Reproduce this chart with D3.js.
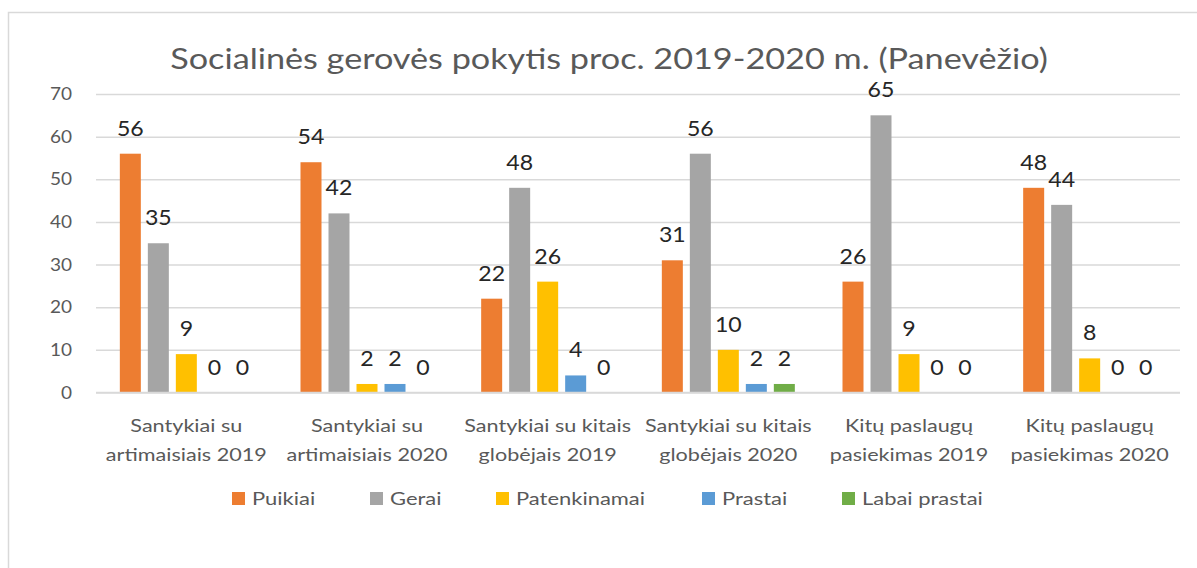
<!DOCTYPE html>
<html>
<head>
<meta charset="utf-8">
<script src="https://cdn.jsdelivr.net/npm/d3@7"></script>
<style>
	body { margin: 0; background: #fff; }
	svg text { font-family: Lato, "Open Sans", sans-serif; }
</style>
</head>
<body>
<div id="chart"></div>
<script>
// ----- data -----
let categories = [
	['Santykiai su', 'artimaisiais 2019'],
	['Santykiai su', 'artimaisiais 2020'],
	['Santykiai su kitais', 'globėjais 2019'],
	['Santykiai su kitais', 'globėjais 2020'],
	['Kitų paslaugų', 'pasiekimas 2019'],
	['Kitų paslaugų', 'pasiekimas 2020']
];
let seriesNames = ['Puikiai', 'Gerai', 'Patenkinamai', 'Prastai', 'Labai prastai'];
let puikiai = [56, 54, 22, 31, 26, 48];
let gerai = [35, 42, 48, 56, 65, 44];
let patenkinamai = [9, 2, 26, 10, 9, 8];
let prastai = [0, 2, 4, 2, 0, 0];
let labaiPrastai = [0, 0, 0, 2, 0, 0];
let yTicks = [0, 10, 20, 30, 40, 50, 60, 70];
let title = 'Socialinės gerovės pokytis proc. 2019-2020 m. (Panevėžio)';

let seriesValues = [puikiai, gerai, patenkinamai, prastai, labaiPrastai];
let colors = ['#ED7D31', '#A5A5A5', '#FFC000', '#5B9BD5', '#70AD47'];

let width = 1197, height = 568;

let svg = d3.select('#chart').append('svg')
	.attr('width', width)
	.attr('height', height);

// the source picture is stretched sideways, so text gets a small x-scale
function stretchedText(parent, x, y, sx, size, anchor, fill, str) {
	return parent.append('text')
		.attr('transform', 'translate(' + x + ',' + y + ') scale(' + sx + ',1)')
		.attr('text-anchor', anchor)
		.attr('fill', fill)
		.style('font-size', size + 'px')
		.text(str);
}

// chart frame (runs off the right and bottom edges)
svg.append('rect')
	.attr('x', 8.5).attr('y', 12.5)
	.attr('width', 1300).attr('height', 700)
	.attr('fill', 'none')
	.attr('stroke', '#d9d9d9')
	.attr('stroke-width', 1.5);

stretchedText(svg, 609, 69, 1.18, 29, 'middle', '#595959', title);

let y = d3.scaleLinear().domain([0, 70]).range([392.5, 94]);
let x0 = d3.scaleBand().domain(d3.range(categories.length)).range([96, 1180]);
let x1 = d3.scaleBand().domain(d3.range(seriesNames.length))
	.range([0, 133]).paddingInner(0.25);
let groupOffset = x0.bandwidth() / 2 - 66.5;

// gridlines
let yAxis = svg.append('g').attr('transform', 'translate(96,0)')
	.call(d3.axisLeft(y).tickValues(yTicks).tickSize(-(1180 - 96)).tickFormat(''));
yAxis.select('.domain').remove();
yAxis.selectAll('.tick line').attr('stroke', '#d9d9d9').attr('stroke-width', 1.5);

// y labels
yTicks.forEach(t => {
	stretchedText(svg, 72, y(t) + 6, 1.12, 17, 'end', '#595959', t);
});

// bars
let groups = svg.selectAll('g.group')
	.data(categories)
	.enter().append('g')
	.attr('class', 'group')
	.attr('transform', (d, i) => 'translate(' + (x0(i) + groupOffset) + ',0)');

groups.each(function(d, ci) {
	let g = d3.select(this);
	let vals = seriesValues.map(s => s[ci]);
	g.selectAll('rect')
		.data(vals)
		.enter().append('rect')
		.attr('x', (v, si) => x1(si))
		.attr('width', x1.bandwidth())
		.attr('y', v => y(v))
		.attr('height', v => y(0) - y(v))
		.attr('fill', (v, si) => colors[si]);
	vals.forEach((v, si) => {
		stretchedText(g, x1(si) + x1.bandwidth() / 2, y(v) - 18, 1.1, 21, 'middle', '#262626', v);
	});
});

// bottom axis line
svg.append('line')
	.attr('x1', 96).attr('x2', 1180)
	.attr('y1', y(0)).attr('y2', y(0))
	.attr('stroke', '#d9d9d9').attr('stroke-width', 1.5);

// category labels
categories.forEach((lines, i) => {
	lines.forEach((line, li) => {
		stretchedText(svg, x0(i) + x0.bandwidth() / 2, 432 + li * 29, 1.2, 18, 'middle', '#595959', line);
	});
});

// legend
let legendX = [232, 370, 496, 702, 842];
let legend = svg.selectAll('g.legend')
	.data(seriesNames)
	.enter().append('g')
	.attr('class', 'legend')
	.attr('transform', (d, i) => 'translate(' + legendX[i] + ',492)');
legend.append('rect')
	.attr('width', 13).attr('height', 13)
	.attr('fill', (d, i) => colors[i]);
legend.each(function(d) {
	stretchedText(d3.select(this), 20, 13, 1.22, 18, 'start', '#595959', d);
});
</script>
</body>
</html>
